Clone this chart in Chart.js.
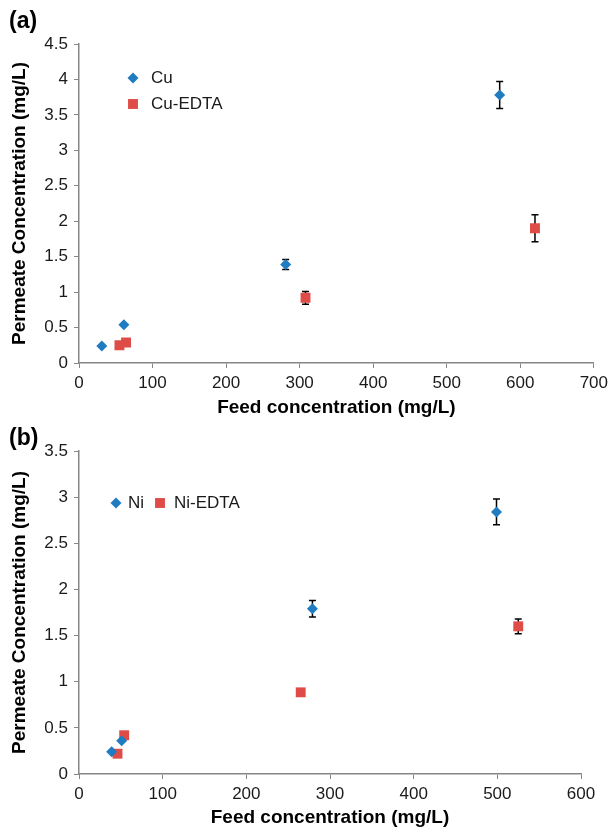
<!DOCTYPE html>
<html>
<head>
<meta charset="utf-8">
<script src="https://cdn.jsdelivr.net/npm/chart.js@4.4.0/dist/chart.umd.min.js"></script>
<style>
  html, body { margin: 0; padding: 0; background: #fff; }
  #wrap { position: relative; width: 613px; height: 830px; overflow: hidden; }
  canvas { position: absolute; left: 0; }
  #chartA { top: 0; }
  #chartB { top: 420px; }
</style>
</head>
<body>
<div id="wrap">
  <canvas id="chartA" width="613" height="420"></canvas>
  <canvas id="chartB" width="613" height="410"></canvas>
</div>
<script>
// (a) copper
const cuFeed = [31, 61, 281, 572];
const cuPerm = [0.24, 0.54, 1.39, 3.78];
const cuErr = [0, 0, 0.07, 0.19];
const cuEdtaFeed = [55, 64, 308, 620];
const cuEdtaPerm = [0.25, 0.29, 0.92, 1.90];
const cuEdtaErr = [0, 0, 0.09, 0.19];
const xTicksA = [0, 100, 200, 300, 400, 500, 600, 700];
const yTicksA = [0, 0.5, 1, 1.5, 2, 2.5, 3, 3.5, 4, 4.5];

// (b) nickel
const niFeed = [39, 51, 279, 499];
const niPerm = [0.24, 0.36, 1.79, 2.84];
const niErr = [0, 0, 0.09, 0.14];
const niEdtaFeed = [46, 54, 265, 525];
const niEdtaPerm = [0.22, 0.42, 0.885, 1.60];
const niEdtaErr = [0, 0, 0, 0.08];
const xTicksB = [0, 100, 200, 300, 400, 500, 600];
const yTicksB = [0, 0.5, 1, 1.5, 2, 2.5, 3, 3.5];

const palette = {
    blue: '#1f7cc1',
    red: '#df4c47',
    axis: '#868686',
    text: '#1a1a1a',
};
const FONT = "'Liberation Sans', Arial, sans-serif";

const toPoints = (xs, ys) => xs.map((x, i) => ({ x: x, y: ys[i] }));

// error bars under the markers
const errorBars = {
    id: 'errorBars',
    beforeDatasetsDraw(chart) {
        const ctx = chart.ctx;
        const xs = chart.scales.x, ys = chart.scales.y;
        ctx.save();
        ctx.strokeStyle = '#000';
        ctx.lineWidth = 1.5;
        chart.data.datasets.forEach((ds) => {
            ds.data.forEach((p, j) => {
                const e = ds.errors[j];
                if (!e) return;
                const px = xs.getPixelForValue(p.x);
                const top = ys.getPixelForValue(p.y + e);
                const bot = ys.getPixelForValue(p.y - e);
                ctx.beginPath();
                ctx.moveTo(px, top); ctx.lineTo(px, bot);
                ctx.moveTo(px - 3.5, top); ctx.lineTo(px + 3.5, top);
                ctx.moveTo(px - 3.5, bot); ctx.lineTo(px + 3.5, bot);
                ctx.stroke();
            });
        });
        ctx.restore();
    }
};

// panel letter + hand-placed legend
const decorations = {
    id: 'decorations',
    afterDraw(chart, args, opts) {
        const ctx = chart.ctx;
        ctx.save();
        ctx.fillStyle = '#000';
        ctx.font = 'bold 23px ' + FONT;
        ctx.textBaseline = 'alphabetic';
        ctx.fillText(opts.letter, 9, opts.letterY);

        ctx.font = '17px ' + FONT;
        ctx.textBaseline = 'middle';
        opts.items.forEach((it, i) => {
            const ds = chart.data.datasets[i];
            ctx.fillStyle = ds.backgroundColor;
            Chart.helpers.drawPoint(ctx, {
                pointStyle: ds.pointStyle,
                radius: ds.pointRadius,
                borderWidth: 0,
                rotation: 0
            }, it.mx, it.my);
            ctx.fillStyle = palette.text;
            ctx.fillText(ds.label, it.tx, it.my);
        });
        ctx.restore();
    }
};

function makeChart(id, sets, xMax, xTicks, yMax, yTicks, padding, xHeight, deco) {
    return new Chart(document.getElementById(id), {
        type: 'scatter',
        data: {
            datasets: sets.map(s => ({
                label: s.label,
                data: s.data,
                errors: s.errors,
                backgroundColor: s.color,
                borderColor: s.color,
                pointStyle: s.style,
                pointRadius: s.radius,
                pointHoverRadius: s.radius,
                pointBorderWidth: 0,
                showLine: false,
            }))
        },
        options: {
            responsive: false,
            animation: false,
            events: [],
            layout: { padding: padding },
            scales: {
                x: {
                    type: 'linear',
                    min: 0,
                    max: xMax,
                    afterFit: (s) => { s.height = xHeight; },
                    afterBuildTicks: (s) => { s.ticks = xTicks.map(v => ({ value: v })); },
                    ticks: { color: palette.text, padding: 5, maxRotation: 0,
                             callback: (v) => String(v),
                             font: { family: FONT, size: 17 } },
                    grid: { drawOnChartArea: false, drawTicks: true, tickLength: 5, color: palette.axis },
                    border: { color: palette.axis, width: 1.5 },
                    title: { display: true, text: 'Feed concentration (mg/L)', color: '#000',
                             font: { family: FONT, size: 19, weight: 'bold' },
                             padding: { top: 0, bottom: 1 } }
                },
                y: {
                    type: 'linear',
                    min: 0,
                    max: yMax,
                    afterFit: (s) => { s.width = 79; },
                    afterBuildTicks: (s) => { s.ticks = yTicks.map(v => ({ value: v })); },
                    ticks: { color: palette.text, padding: 6,
                             callback: (v) => String(v),
                             font: { family: FONT, size: 17 } },
                    grid: { drawOnChartArea: false, drawTicks: true, tickLength: 5, color: palette.axis },
                    border: { color: palette.axis, width: 1.5 },
                    title: { display: true, text: 'Permeate Concentration (mg/L)', color: '#000',
                             font: { family: FONT, size: 19, weight: 'bold' },
                             padding: { top: 8, bottom: 0 } }
                }
            },
            plugins: {
                legend: { display: false },
                tooltip: { enabled: false },
                decorations: deco
            }
        },
        plugins: [errorBars, decorations]
    });
}

makeChart('chartA', [
    { label: 'Cu', data: toPoints(cuFeed, cuPerm), errors: cuErr, color: palette.blue, style: 'rectRot', radius: 5.5 },
    { label: 'Cu-EDTA', data: toPoints(cuEdtaFeed, cuEdtaPerm), errors: cuEdtaErr, color: palette.red, style: 'rect', radius: 7 }
], 700, xTicksA, 4.5, yTicksA, { left: 0, top: 44, right: 16, bottom: 0 }, 57, {
    letter: '(a)', letterY: 28,
    items: [{ mx: 133, my: 78, tx: 151 }, { mx: 133, my: 104, tx: 151 }]
});

makeChart('chartB', [
    { label: 'Ni', data: toPoints(niFeed, niPerm), errors: niErr, color: palette.blue, style: 'rectRot', radius: 5.5 },
    { label: 'Ni-EDTA', data: toPoints(niEdtaFeed, niEdtaPerm), errors: niEdtaErr, color: palette.red, style: 'rect', radius: 7 }
], 600, xTicksB, 3.5, yTicksB, { left: 0, top: 31, right: 32, bottom: 0 }, 56, {
    letter: '(b)', letterY: 25,
    items: [{ mx: 116, my: 83, tx: 128 }, { mx: 160, my: 83, tx: 174 }]
});
</script>
</body>
</html>
